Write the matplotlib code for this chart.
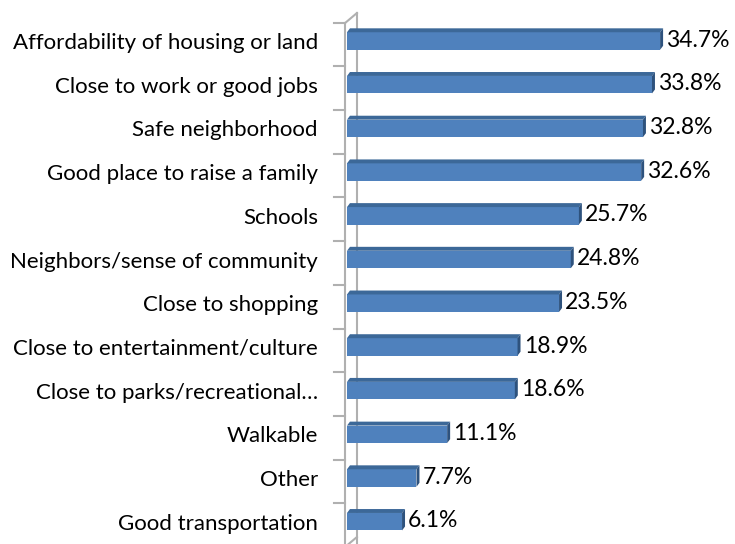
import matplotlib
matplotlib.use('Agg')
import matplotlib.pyplot as plt
from matplotlib.patches import Polygon
from matplotlib.lines import Line2D

# Data (top to bottom)
categories = ['Affordability of housing or land', 'Close to work or good jobs',
              'Safe neighborhood', 'Good place to raise a family', 'Schools',
              'Neighbors/sense of community', 'Close to shopping',
              'Close to entertainment/culture', 'Close to parks/recreational\u2026',
              'Walkable', 'Other', 'Good transportation']
values = [34.7, 33.8, 32.8, 32.6, 25.7, 24.8, 23.5, 18.9, 18.6, 11.1, 7.7, 6.1]
value_labels = ['34.7%', '33.8%', '32.8%', '32.6%', '25.7%', '24.8%', '23.5%',
                '18.9%', '18.6%', '11.1%', '7.7%', '6.1%']

plt.rcParams['font.family'] = ['Lato', 'DejaVu Sans']

fig = plt.figure(figsize=(7.35, 5.44), dpi=100)
ax = fig.add_axes([347 / 735, 0, 388 / 735, 1])

front = '#4F81BD'
top_col = '#3C6898'
side_col = '#2E527D'
bar_h = 0.40
dx, dy = 0.33, 0.09  # 3d depth in data units

ypos = list(range(len(values)))
ax.barh(ypos, values, height=bar_h, color=front, edgecolor='none', zorder=3)

for y, v in zip(ypos, values):
    top = y - bar_h / 2
    bot = y + bar_h / 2
    ax.add_patch(Polygon([(0, top), (v, top), (v + dx, top - dy), (dx, top - dy)],
                         closed=True, facecolor=top_col, edgecolor='none', zorder=3))
    ax.add_patch(Polygon([(v, top), (v + dx, top - dy), (v + dx, bot - dy), (v, bot)],
                         closed=True, facecolor=side_col, edgecolor='none', zorder=3))

for y, v, lab in zip(ypos, values, value_labels):
    ax.text(v + dx + 0.35, y - 0.02, lab, va='center', ha='left', fontsize=16.5,
            color='#000000')

ax.set_xlim(0, 43)
ax.set_ylim(11.51, -0.938)

# axis wall lines
wall = '#B0B0B0'
xl, xb = -0.22, 1.1
top_left = -0.41
ax.add_line(Line2D([xl, xl], [top_left, 12], color=wall, lw=1.5, clip_on=False, zorder=1))
ax.add_line(Line2D([xb, xb], [-0.64, 12], color=wall, lw=1.5, clip_on=False, zorder=1))
ax.add_line(Line2D([xl, xb], [top_left, -0.64], color=wall, lw=1.5, clip_on=False, zorder=1))
ax.add_line(Line2D([xl, xb], [11.58, 11.35], color=wall, lw=1.5, clip_on=False, zorder=1))
for i in range(len(values) + 1):
    yb = i - 0.42
    ax.add_line(Line2D([xl - 1.2, xl], [yb, yb], color=wall, lw=1.5, clip_on=False, zorder=1))

ax.set_yticks(ypos)
ax.set_yticklabels(categories, fontsize=16)
ax.tick_params(axis='y', length=0, pad=21)
ax.set_xticks([])
for s in ax.spines.values():
    s.set_visible(False)
ax.patch.set_alpha(0)

fig.savefig('out.png', dpi=100)
